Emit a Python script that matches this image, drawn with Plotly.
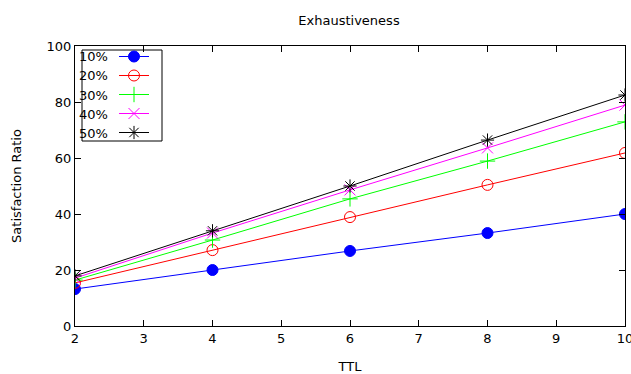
import plotly.graph_objects as go

ttl = [2, 4, 6, 8, 10]
labels = ["10%", "20%", "30%", "40%", "50%"]
s10 = [13.2, 20.0, 26.8, 33.2, 40.0]
s20 = [15.4, 27.1, 38.9, 50.4, 61.8]
s30 = [16.4, 30.7, 45.4, 58.9, 72.9]
s40 = [17.1, 33.2, 48.6, 63.6, 78.9]
s50 = [17.9, 34.0, 50.0, 66.4, 82.5]
series = [s10, s20, s30, s40, s50]
colors = ["#0000ff", "#ff0000", "#00ff00", "#ff00ff", "#000000"]
symbols = ["circle", "circle-open", "cross-thin-open", "x-thin-open", "asterisk-open"]
sizes = [11, 11, 11, 11, 11]

FONT = "DejaVu Sans"
W, H = 631, 374
ML, MR, MT, MB = 75, 6, 46, 48
PW, PH = W - ML - MR, H - MT - MB


def px_x(px):
    return (px - ML) / PW


def px_y(py):
    return (H - MB - py) / PH


fig = go.Figure()
for lab, ys, c, sym, sz in zip(labels, series, colors, symbols, sizes):
    fig.add_trace(go.Scatter(
        x=ttl, y=ys, name=lab, mode="lines+markers",
        line=dict(color=c, width=1),
        marker=dict(symbol=sym, size=sz, color=c, line=dict(color=c, width=1)),
    ))

axis_common = dict(
    showline=True, linecolor="black", linewidth=1, mirror="ticks",
    ticks="inside", ticklen=6, tickcolor="black", showgrid=False, zeroline=False,
    automargin=False,
    tickfont=dict(family=FONT, size=13, color="black"),
)
fig.update_xaxes(range=[2, 10], dtick=1, ticklabeloverflow="allow",
                 title=dict(text="TTL", standoff=18, font=dict(family=FONT, size=13, color="black")),
                 **axis_common)
fig.update_yaxes(range=[0, 100], dtick=20,
                 title=dict(text="Satisfaction Ratio", standoff=22, font=dict(family=FONT, size=13, color="black")),
                 **axis_common)

# legend frame (decoration) and labels placed to the left of the symbols
row_y = [57, 76, 95, 114, 133]
fig.add_shape(type="rect", xref="paper", yref="paper",
              x0=px_x(82), x1=px_x(162), y0=px_y(141), y1=px_y(50),
              line=dict(color="black", width=1), fillcolor="white", layer="below")
for lab, ry in zip(labels, row_y):
    fig.add_annotation(text=lab, xref="paper", yref="paper", x=px_x(77), y=px_y(ry),
                       xanchor="left", yanchor="middle", showarrow=False,
                       font=dict(family=FONT, size=13, color="black"))

fig.update_layout(
    width=W, height=H,
    margin=dict(l=ML, r=MR, t=MT, b=MB),
    paper_bgcolor="white", plot_bgcolor="white",
    title=dict(text="Exhaustiveness", x=349 / W, xanchor="center",
               y=1 - 20 / H, yanchor="middle",
               font=dict(family=FONT, size=13, color="black")),
    legend=dict(x=px_x(114), y=px_y(42), xanchor="left", yanchor="top",
                borderwidth=0, bgcolor="rgba(0,0,0,0)",
                font=dict(family=FONT, size=12, color="rgba(0,0,0,0)"),
                tracegroupgap=0),
    showlegend=True,
)

fig.write_html("out.html")
